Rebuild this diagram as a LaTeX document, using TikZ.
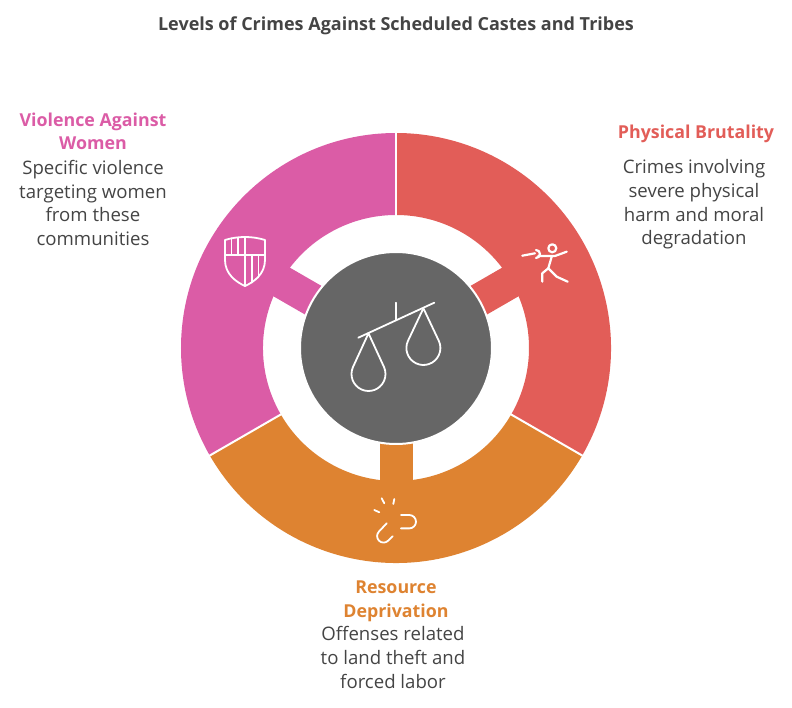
\documentclass[tikz,border=0pt]{standalone}
\usepackage{fontspec}
\setmainfont{Open Sans}
\definecolor{redseg}{HTML}{E25D58}
\definecolor{pinkseg}{HTML}{DB5CA6}
\definecolor{orangeseg}{HTML}{DE8331}
\definecolor{hubgray}{HTML}{666666}
\definecolor{textgray}{HTML}{444444}
\begin{document}
\begin{tikzpicture}[x=1pt,y=1pt] % кольцо уровней
\tikzstyle{mytitle} = [font=\bfseries\fontsize{18}{20}\selectfont, text=textgray, inner sep=0pt, anchor=base] % заголовок
\tikzstyle{myhead} = [font=\bfseries\fontsize{17.8}{23.7}\selectfont, align=center, inner sep=0pt, anchor=base] % цветные заголовки
\tikzstyle{mybody} = [font=\fontsize{18.6}{23.7}\selectfont, text=textgray, align=center, inner sep=0pt, anchor=base] % пояснения (base = последняя строка)
\tikzstyle{myicon} = [white, line width=1.8pt, line cap=round, line join=round] % белые значки
\useasboundingbox (-396,-360) rectangle (396,348);
% сектора кольца с язычками к центру
\foreach \s/\e/\m/\c in {-30/90/30/redseg, 90/210/150/pinkseg, 210/330/270/orangeseg}{
  \fill[\c] (\s:215pt) arc[start angle=\s, end angle=\e, radius=215pt]
    -- (\e:133pt) arc[start angle=\e, end angle=\s, radius=133pt] -- cycle;
  \fill[\c, rotate=\m] (90,-16.5) rectangle (140,16.5);
}
\foreach \a in {90,210,330} % белые разделители
  \draw[white, line width=2pt] (\a:131pt) -- (\a:217pt);
\node[circle, fill=hubgray, draw=white, line width=2pt, minimum size=192pt, inner sep=0pt] (hub) at (0,0) {};
% весы в центре
\draw[myicon] (-37.7,10.3) -- (38.3,45.3);
\draw[myicon] (0,27.7) -- (0,45.3);
\foreach \ax/\ay/\cy in {-27.5/14.7/-26, 27.4/39.7/0}
  \draw[myicon] (\ax,\ay) -- ([shift={(155:17pt)}]\ax,\cy) arc[start angle=155, end angle=385, radius=17pt] -- cycle;
% фехтовальщик
\draw[myicon, line width=2.2pt] (156.3,99.7) circle (4pt);
\draw[myicon, line width=2.2pt] (126.3,92.3) -- (139,94.7);
\draw[myicon, line width=2.2pt] (140,98) arc[start angle=90, end angle=-90, radius=4pt];
\draw[myicon, line width=2.2pt] (142.3,92) -- (159,92) -- (170.7,96.3);
\draw[myicon, line width=2.2pt] (155.7,91.3) -- (152.3,79.7);
\draw[myicon, line width=2.2pt] (146.3,66.3) -- (146.3,74.7) -- (152.3,79.7) -- (160.7,71.3) -- (171.7,66.3);
% щит
\draw[myicon] (-171,108) .. controls (-158,112) and (-144,112) .. (-131,108) -- (-131,88)
  .. controls (-131,74) and (-142,66) .. (-151,62) .. controls (-160,66) and (-171,74) .. (-171,88) -- cycle;
\draw[myicon] (-171,93) -- (-131,93);
\draw[myicon] (-151,111) -- (-151,62);
\foreach \x in {-164.5,-158}
  \draw[myicon] (\x,93) -- (\x,109.8);
\draw[myicon] (-144,93) -- (-144,65.5);
\draw[myicon] (-137.5,93) -- (-137.5,70.5);
% разорванная цепь
\draw[myicon] (-14.3,-150.3) -- (-11.7,-155.3);
\draw[myicon] (-1.7,-151) -- (-2.7,-156);
\draw[myicon] (-21.7,-162) -- (-16.7,-164.3);
\draw[myicon] (-9.3,-175.3) -- (-17,-183.5) arc[start angle=135, end angle=315, radius=6.5pt] -- (-3.3,-188.2);
\draw[myicon] (5,-167) -- (13.3,-167) arc[start angle=90, end angle=-90, radius=6.7pt] -- (5,-180.4);
% тексты
\node[mytitle] (title) at (0,317) {Levels of Crimes Against Scheduled Castes and Tribes};
\node[myhead, text=pinkseg] (headPink) at (-303,198) {Violence Against\\Women};
\node[mybody] (bodyPink) at (-303,102.3) {Specific violence\\targeting women\\from these\\communities};
\node[myhead, text=redseg] (headRed) at (300,209.7) {Physical Brutality};
\node[mybody] (bodyRed) at (298,103) {Crimes involving\\severe physical\\harm and moral\\degradation};
\node[myhead, text=orangeseg] (headOrange) at (0,-269.7) {Resource\\Deprivation};
\node[mybody] (bodyOrange) at (-3,-340.3) {Offenses related\\to land theft and\\forced labor};
\end{tikzpicture}
\end{document}
